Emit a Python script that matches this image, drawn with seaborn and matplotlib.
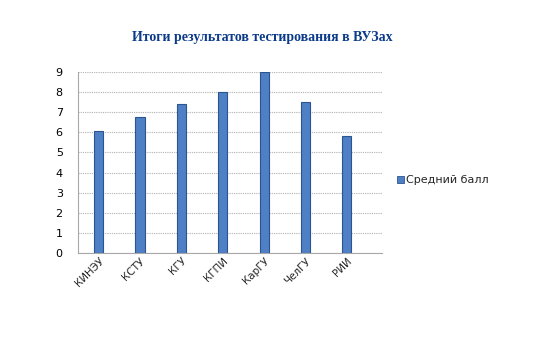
import matplotlib
matplotlib.use("Agg")
import matplotlib.pyplot as plt
import seaborn as sns
import pandas as pd
from matplotlib.patches import Patch

categories = ["КИНЭУ", "КСТУ", "КГУ", "КГПИ", "КарГУ", "ЧелГУ", "РИИ"]
values = [6.05, 6.75, 7.4, 8.0, 9.0, 7.5, 5.8]
series_name = "Средний балл"
title = "Итоги результатов тестирования в ВУЗах"

df = pd.DataFrame({"cat": categories, "val": values})

sns.set_theme(style="white")
plt.rcParams['font.family'] = ['DejaVu Sans']

bar_face = "#4F7FC4"
bar_edge = "#2B5590"

fig = plt.figure(figsize=(5.33, 3.37), dpi=100)
ax = fig.add_axes([78/533, 1-253/337, (382-78)/533, (253-72)/337])

sns.barplot(data=df, x="cat", y="val", ax=ax, width=0.22,
            color=bar_face, edgecolor=bar_edge, linewidth=0.8, saturation=1)

ax.set_ylim(0, 9)
ax.set_xlim(-0.5, 6.85)
ax.set_yticks(range(0, 10))
ax.yaxis.grid(True, linestyle=(0, (1, 1)), color="#b0b0b0", linewidth=0.8)
ax.set_axisbelow(True)
ax.set_xlabel("")
ax.set_ylabel("")
for s in ["top", "right"]:
    ax.spines[s].set_visible(False)
ax.spines["left"].set_color("#a8a8a8")
ax.spines["bottom"].set_color("#a8a8a8")
ax.spines["left"].set_linewidth(0.8)
ax.spines["bottom"].set_linewidth(0.8)
ax.tick_params(axis="y", labelsize=8, colors="#000000", length=3, color="#a8a8a8", pad=8)
ax.set_xticks([i + 0.5 for i in range(-1, 7)], minor=True)
ax.tick_params(axis="x", which="minor", length=3, color="#a8a8a8")
ax.tick_params(axis="x", which="major", length=0, labelsize=7.5, pad=2)
for lbl in ax.get_xticklabels():
    lbl.set_rotation(45)
    lbl.set_ha("right")
    lbl.set_rotation_mode("anchor")

fig.text(262/533, 1-37/337, title, ha="center", va="center",
         fontsize=10, fontweight="bold", color="#0B3A8A", family="Liberation Serif")

handle = Patch(facecolor=bar_face, edgecolor=bar_edge, linewidth=0.6)
fig.legend([handle], [series_name], loc="center left",
           bbox_to_anchor=(387/533, 1-180/337), frameon=False,
           fontsize=8, handlelength=0.6, handleheight=0.6, handletextpad=0.25)

fig.savefig("out.png", dpi=100)
